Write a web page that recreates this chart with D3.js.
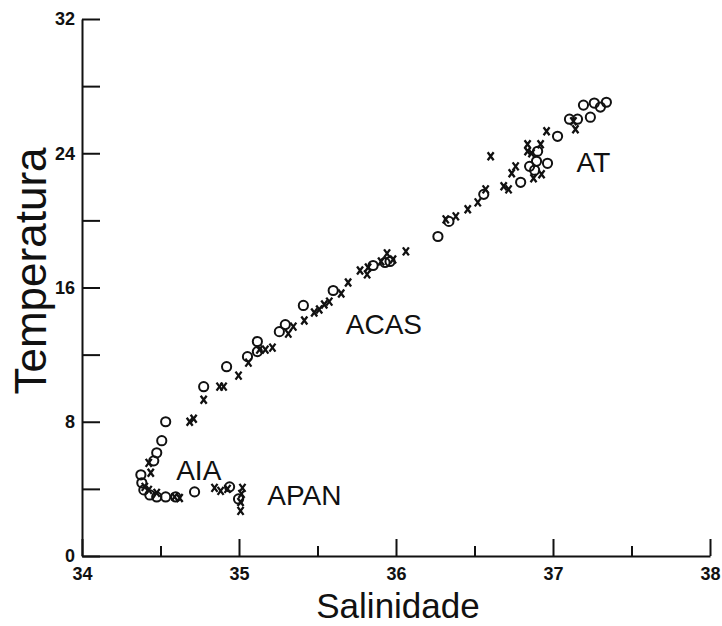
<!DOCTYPE html>
<html>
<head>
<meta charset="utf-8">
<script src="https://cdn.jsdelivr.net/npm/d3@7"></script>
<style>
  body { margin: 0; background: #fff; }
  svg { display: block; }
  .tick text { font-family: "Liberation Sans", Arial, sans-serif; font-weight: bold; font-size: 18px; fill: #111; }
  .domain, .tick line { stroke: #111; stroke-width: 2px; }
</style>
</head>
<body>
<svg width="722" height="626"></svg>
<script>
// salinity / temperature pairs, two kinds of marks
var circleSal = [34.375, 34.381, 34.394, 34.432, 34.476, 34.533, 34.597, 34.717, 34.940, 34.997,
  34.457, 34.476, 34.508, 34.533, 34.775, 34.921, 35.054, 35.117, 35.117, 35.257, 35.295, 35.410,
  35.600, 35.854, 35.930, 35.962, 36.267, 36.337, 36.559, 36.794, 36.851, 36.883, 36.895, 36.902,
  36.965, 37.029, 37.105, 37.156, 37.238, 37.194, 37.263, 37.302, 37.340];
var circleTemp = [4.84, 4.36, 3.94, 3.64, 3.52, 3.52, 3.52, 3.82, 4.12, 3.40,
  5.67, 6.15, 6.87, 8.0, 10.09, 11.28, 11.88, 12.78, 12.18, 13.37, 13.79, 14.93,
  15.82, 17.31, 17.49, 17.55, 19.04, 19.94, 21.55, 22.27, 23.22, 22.99, 23.52, 24.12,
  23.40, 25.01, 26.03, 26.03, 26.15, 26.87, 26.99, 26.75, 27.04];

var crossSal = [34.425, 34.438, 34.400, 34.425, 34.476, 34.590, 34.622, 34.844, 34.883, 34.927,
  35.022, 35.016, 35.010, 35.010, 34.775, 34.876, 34.902, 34.686, 34.711, 34.997, 35.060, 35.130,
  35.168, 35.213, 35.314, 35.346, 35.416, 35.479, 35.511, 35.543, 35.575, 35.651, 35.695, 35.771,
  35.816, 35.822, 35.905, 35.943, 35.981, 36.063, 36.317, 36.381, 36.457, 36.521, 36.571, 36.603,
  36.686, 36.717, 36.737, 36.762, 36.838, 36.838, 36.863, 36.876, 36.927, 36.921, 36.959, 37.130,
  37.143];
var crossTemp = [5.55, 4.96, 4.12, 3.94, 3.76, 3.52, 3.46, 4.06, 3.88, 4.00,
  4.06, 3.70, 3.22, 2.69, 9.31, 10.09, 10.09, 8.00, 8.18, 10.75, 11.52, 12.30,
  12.30, 12.42, 13.25, 13.67, 14.03, 14.51, 14.69, 14.99, 15.16, 15.64, 16.30, 17.01,
  16.78, 17.19, 17.55, 18.03, 17.67, 18.15, 20.06, 20.24, 20.66, 21.07, 21.85, 23.82,
  22.03, 21.85, 22.81, 23.22, 24.54, 24.12, 24.00, 22.51, 22.75, 24.54, 25.31, 25.91,
  25.43];

var waterMasses = ["AT", "ACAS", "AIA", "APAN"];
var massSal = [37.15, 35.68, 34.60, 35.18];
var massTemp = [22.9, 13.25, 4.55, 3.05];

var xMajor = [34, 35, 36, 37, 38];
var xMinor = [34.5, 35.5, 36.5, 37.5];
var yTicks = [0, 4, 8, 12, 16, 20, 24, 28, 32];
var yLabels = [0, 8, 16, 24, 32];

var svg = d3.select("svg");

var x = d3.scaleLinear().domain([34, 38]).range([82, 710]);
var y = d3.scaleLinear().domain([0, 32]).range([556, 19]);

// y axis, ticks point inward
svg.append("g")
  .attr("transform", "translate(" + x(34) + ",0)")
  .call(d3.axisLeft(y).tickValues(yTicks).tickSizeInner(-18).tickSizeOuter(0).tickPadding(7)
    .tickFormat(function (d) { return yLabels.indexOf(d) >= 0 ? d : ""; }));

// x axis: long ticks on whole numbers, short ones between
svg.append("g")
  .attr("transform", "translate(0," + y(0) + ")")
  .call(d3.axisBottom(x).tickValues(xMajor).tickSizeInner(-17).tickSizeOuter(0).tickPadding(11)
    .tickFormat(d3.format("d")));
svg.append("g")
  .attr("transform", "translate(0," + y(0) + ")")
  .call(d3.axisBottom(x).tickValues(xMinor).tickSizeInner(-10).tickSizeOuter(0).tickFormat(""))
  .select(".domain").remove();

// circles
svg.append("g")
  .selectAll("circle")
  .data(d3.range(circleSal.length))
  .enter().append("circle")
  .attr("cx", function (i) { return x(circleSal[i]); })
  .attr("cy", function (i) { return y(circleTemp[i]); })
  .attr("r", 4.6)
  .attr("fill", "none")
  .attr("stroke", "#111")
  .attr("stroke-width", 2);

// crosses
svg.append("g")
  .selectAll("path")
  .data(d3.range(crossSal.length))
  .enter().append("path")
  .attr("transform", function (i) { return "translate(" + x(crossSal[i]) + "," + y(crossTemp[i]) + ")"; })
  .attr("d", "M-3,-4L3,4M3,-4L-3,4")
  .attr("stroke", "#111")
  .attr("stroke-width", 2.3)
  .attr("fill", "none");

// water mass names
svg.append("g")
  .selectAll("text")
  .data(waterMasses)
  .enter().append("text")
  .attr("x", function (d, i) { return x(massSal[i]); })
  .attr("y", function (d, i) { return y(massTemp[i]); })
  .attr("font-family", "Liberation Sans, Arial, sans-serif")
  .attr("font-size", 28)
  .attr("fill", "#111")
  .text(function (d) { return d; });

// axis titles
svg.append("text")
  .attr("x", 398)
  .attr("y", 618)
  .attr("text-anchor", "middle")
  .attr("font-family", "Liberation Sans, Arial, sans-serif")
  .attr("font-size", 35)
  .attr("fill", "#111")
  .text("Salinidade");

svg.append("text")
  .attr("transform", "translate(46,271) rotate(-90)")
  .attr("text-anchor", "middle")
  .attr("font-family", "Liberation Sans, Arial, sans-serif")
  .attr("font-size", 44)
  .attr("fill", "#111")
  .text("Temperatura");
</script>
</body>
</html>
